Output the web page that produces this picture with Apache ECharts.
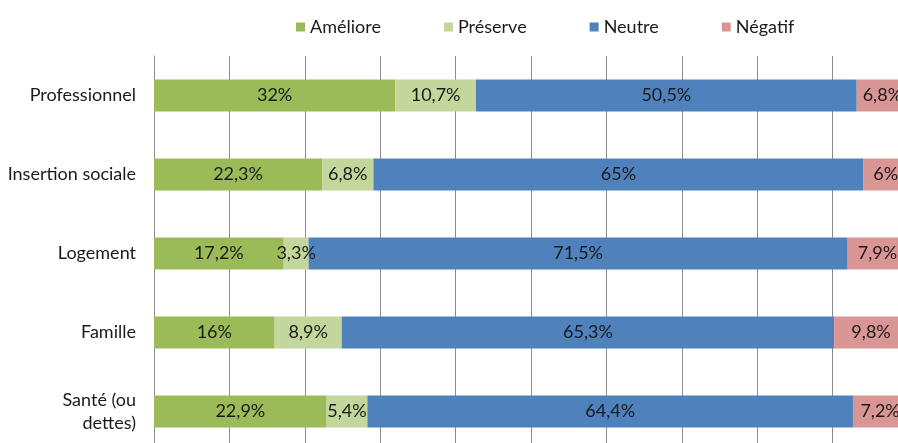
<!DOCTYPE html>
<html><head><meta charset="utf-8">
<script src="https://cdn.jsdelivr.net/npm/echarts@6/dist/echarts.min.js"></script>
<style>html,body{margin:0;padding:0;background:#fff}#c{width:898px;height:443px}</style>
</head><body><div id="c"></div>
<script>
const categories = ['Professionnel', 'Insertion sociale', 'Logement', 'Famille', 'Santé (ou dettes)'];
const seriesNames = ['Améliore', 'Préserve', 'Neutre', 'Négatif'];
const ameliore = [32, 22.3, 17.2, 16, 22.9];
const preserve = [10.7, 6.8, 3.3, 8.9, 5.4];
const neutre = [50.5, 65, 71.5, 65.3, 64.4];
const negatif = [6.8, 6, 7.9, 9.8, 7.2];
const colors = ['#9BBB59', '#C3D69B', '#4F81BD', '#D99694'];
const values = [ameliore, preserve, neutre, negatif];

const FONT = 'Lato';
const chart = echarts.init(document.getElementById('c'));
chart.setOption({
  animation: false,
  textStyle: { fontFamily: FONT },
  legend: {
    top: 13, left: 291, itemWidth: 9, itemHeight: 9, itemGap: 63,
    icon: 'rect',
    textStyle: { fontFamily: FONT, fontSize: 18, color: '#1a1a1a' },
    data: seriesNames
  },
  grid: { left: 154, width: 754, top: 56, height: 395, containLabel: false, outerBoundsMode: 'none' },
  xAxis: {
    type: 'value', min: 0, max: 100, interval: 10,
    axisLabel: { show: false }, axisTick: { show: false }, axisLine: { show: false },
    splitLine: { lineStyle: { color: '#8c8c8c', width: 1 } }
  },
  yAxis: {
    type: 'category', inverse: true, data: categories,
    axisLine: { lineStyle: { color: '#8c8c8c' } },
    axisTick: { length: 6, lineStyle: { color: '#8c8c8c' } },
    axisLabel: {
      margin: 18, fontFamily: FONT, fontSize: 18, color: '#1a1a1a', lineHeight: 23,
      formatter: v => v.replace('(ou ', '(ou\n')
    }
  },
  series: seriesNames.map((n, i) => ({
    name: n, type: 'bar', stack: 'all', barWidth: 32,
    itemStyle: { color: colors[i] },
    label: {
      show: true, position: 'inside', fontFamily: FONT, fontSize: 18, color: '#1a1a1a',
      formatter: p => String(p.value).replace('.', ',') + '%'
    },
    data: values[i]
  }))
});
</script></body></html>
